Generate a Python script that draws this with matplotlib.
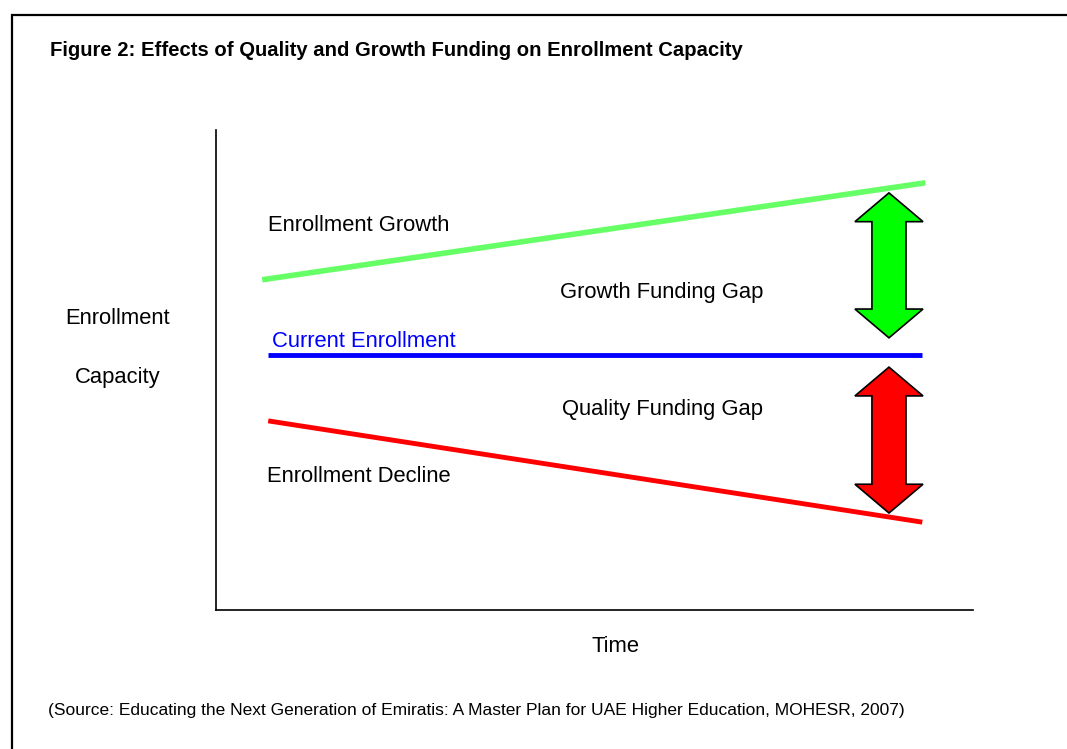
import matplotlib.pyplot as plt
from matplotlib.patches import Polygon, Rectangle

plt.rcParams["font.family"] = ["Liberation Sans", "DejaVu Sans"]

# schematic values (axis units 0-100)
growth_x = [6.1, 93.7]
growth_y = [68.8, 89.0]
current_x = [6.9, 93.3]
current_y = [53.1, 53.1]
decline_x = [6.9, 93.3]
decline_y = [39.4, 18.3]

gap_x = 88.9
growth_gap = [56.7, 86.9]
quality_gap = [20.2, 50.6]


def double_arrow(ax, x, y0, y1, color, head_w=9.0, shaft_w=4.5, head_l=6.0):
    pts = [
        (x, y1), (x + head_w / 2, y1 - head_l), (x + shaft_w / 2, y1 - head_l),
        (x + shaft_w / 2, y0 + head_l), (x + head_w / 2, y0 + head_l), (x, y0),
        (x - head_w / 2, y0 + head_l), (x - shaft_w / 2, y0 + head_l),
        (x - shaft_w / 2, y1 - head_l), (x - head_w / 2, y1 - head_l),
    ]
    ax.add_patch(Polygon(pts, closed=True, facecolor=color, edgecolor="black",
                         linewidth=1.2, zorder=3))


W, H = 1067, 749
fig = plt.figure(figsize=(W / 100, H / 100), dpi=100)

# outer frame
fig.patches.append(Rectangle((12 / W, -0.1), 1.2, 1 - 15 / H + 0.1,
                             transform=fig.transFigure, fill=False,
                             edgecolor="black", linewidth=1.6))

ax = fig.add_axes([216 / W, 1 - 610 / H, (973 - 216) / W, (610 - 130) / H])
ax.set_xlim(0, 100)
ax.set_ylim(0, 100)
for s in ["top", "right"]:
    ax.spines[s].set_visible(False)
ax.spines["left"].set_linewidth(1.2)
ax.spines["bottom"].set_linewidth(1.2)
ax.set_xticks([])
ax.set_yticks([])

ax.plot(growth_x, growth_y, color="#66ff66", linewidth=4, solid_capstyle="butt")
ax.plot(current_x, current_y, color="#0000ff", linewidth=3.5, solid_capstyle="butt")
ax.plot(decline_x, decline_y, color="#ff0000", linewidth=3.5, solid_capstyle="butt")

double_arrow(ax, gap_x, growth_gap[0], growth_gap[1], "#00ff00")
double_arrow(ax, gap_x, quality_gap[0], quality_gap[1], "#ff0000")

fs = 15.8
ax.text(6.9, 80.2, "Enrollment Growth", fontsize=fs, va="center", ha="left")
ax.text(45.4, 66.2, "Growth Funding Gap", fontsize=fs, va="center", ha="left")
ax.text(7.4, 56.0, "Current Enrollment", fontsize=fs, va="center", ha="left",
        color="#0000ff")
ax.text(45.7, 41.7, "Quality Funding Gap", fontsize=fs, va="center", ha="left")
ax.text(6.7, 27.9, "Enrollment Decline", fontsize=fs, va="center", ha="left")

fig.text(118 / W, 1 - 318 / H, "Enrollment", fontsize=fs, ha="center", va="center")
fig.text(118 / W, 1 - 378 / H, "Capacity", fontsize=fs, ha="center", va="center")
fig.text(616 / W, 1 - 646 / H, "Time", fontsize=fs, ha="center", va="center")

fig.text(50 / W, 1 - 51 / H,
         "Figure 2: Effects of Quality and Growth Funding on Enrollment Capacity",
         fontsize=14.6, fontweight="bold", ha="left", va="center")
fig.text(48 / W, 1 - 711 / H,
         "(Source: Educating the Next Generation of Emiratis: A Master Plan for "
         "UAE Higher Education, MOHESR, 2007)",
         fontsize=12.5, ha="left", va="center")

fig.savefig("out.png", dpi=100)
